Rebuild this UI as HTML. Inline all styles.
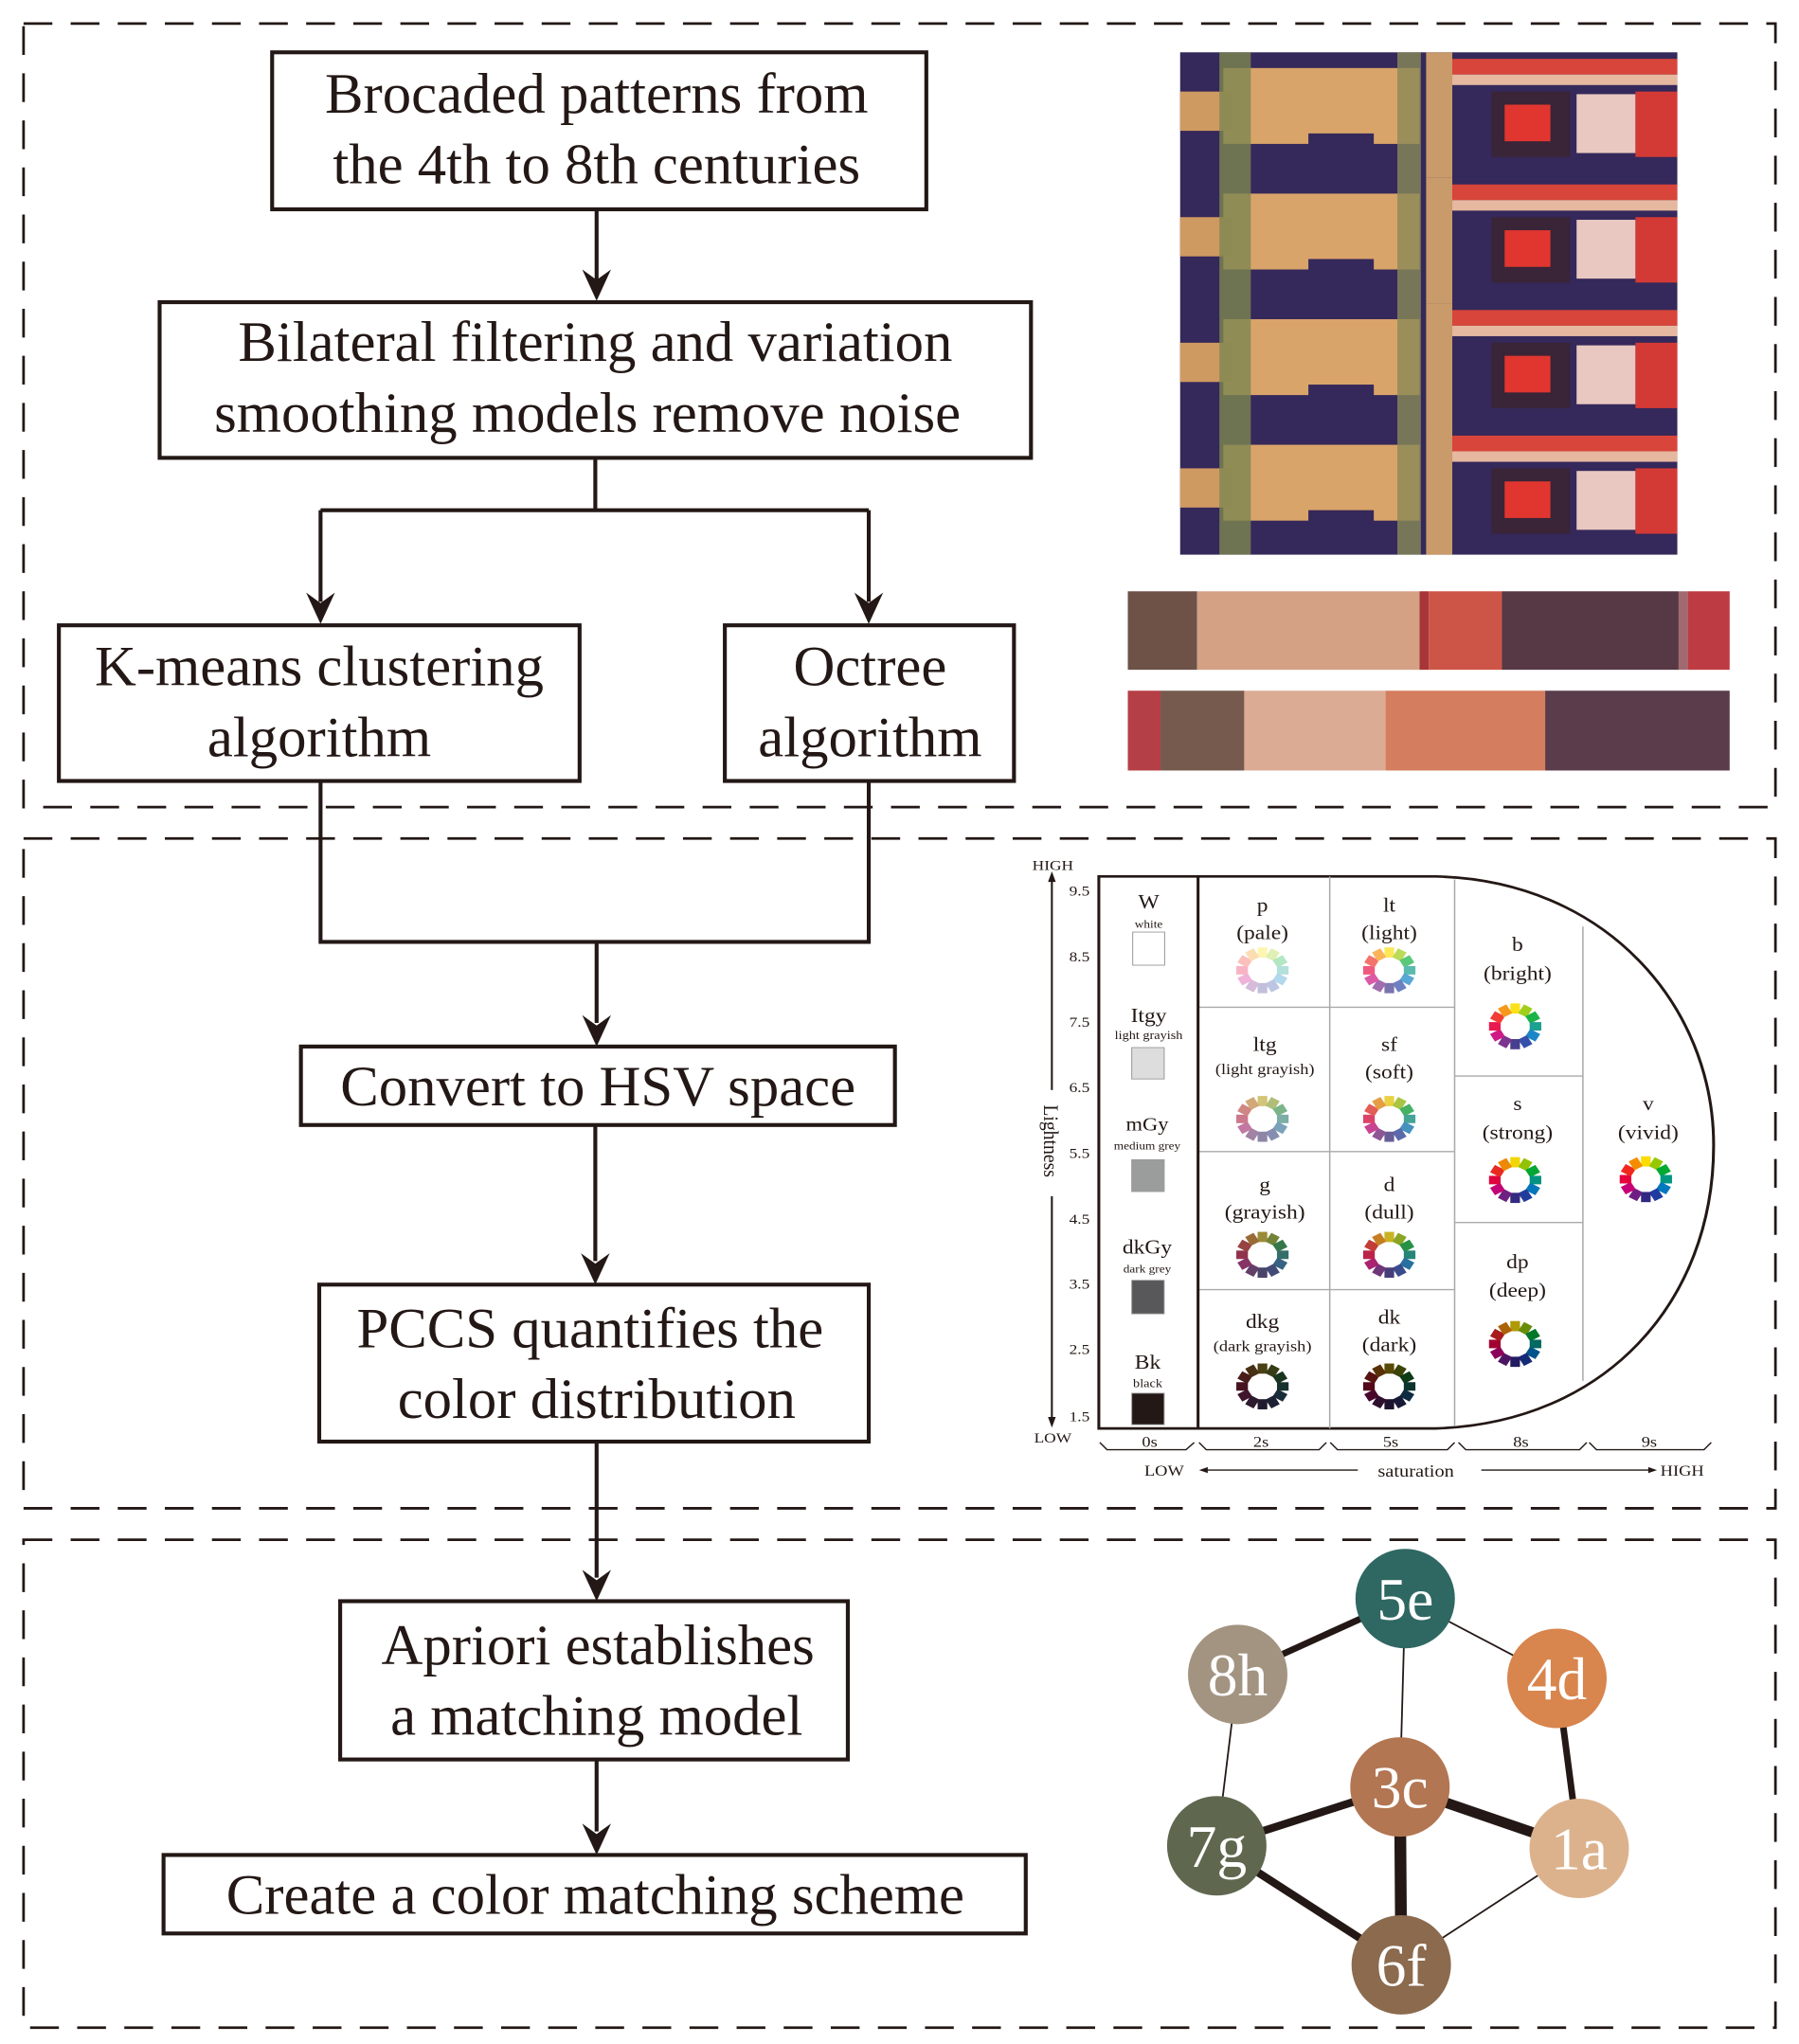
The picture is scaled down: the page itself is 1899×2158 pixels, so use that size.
<!DOCTYPE html>
<html><head><meta charset="utf-8"><style>
html,body{margin:0;padding:0;background:#fff}
svg{display:block}
text{font-family:"Liberation Serif",serif;fill:#231815}
</style></head><body>
<svg id="s" width="1899" height="2158" viewBox="0 0 1375 1562.5" preserveAspectRatio="none" xmlns="http://www.w3.org/2000/svg">
<g fill="none" stroke="#231815" stroke-width="2" stroke-dasharray="22 14">
<rect x="18" y="18" width="1339" height="599"/>
<rect x="18" y="641" width="1339" height="512"/>
<rect x="18" y="1177" width="1339" height="373"/>
</g>
<g fill="#fff" stroke="#231815" stroke-width="3">
<rect x="208" y="40" width="500" height="120"/>
<rect x="122" y="231" width="666" height="119"/>
<rect x="45" y="478" width="398" height="119"/>
<rect x="554" y="478" width="221" height="119"/>
<rect x="230" y="800" width="454" height="60"/>
<rect x="244" y="982" width="420" height="120"/>
<rect x="260" y="1224" width="388" height="121"/>
<rect x="125" y="1418" width="659" height="60"/>
</g>
<g fill="none" stroke="#231815" stroke-width="3">
<path d="M456,160 V214"/><path d="M455,350 V390 M245,390 H664 M245,390 V460 M664,390 V460"/>
<path d="M245,597 V720 H664 V597 M456,720 V782"/>
<path d="M455,860 V964"/><path d="M456,1102 V1206"/><path d="M456,1345 V1400"/>
</g>
<g fill="#231815" id="arrows"></g>
<g font-size="44" text-anchor="middle">
<text x="456" y="86">Brocaded patterns from</text><text x="456" y="140">the 4th to 8th centuries</text>
<text x="455" y="276">Bilateral filtering and variation</text><text x="449" y="330">smoothing models remove noise</text>
<text x="244" y="524">K-means clustering</text><text x="244" y="578">algorithm</text>
<text x="665" y="524">Octree</text><text x="665" y="578">algorithm</text>
<text x="457" y="845">Convert to HSV space</text>
<text x="451" y="1030">PCCS quantifies the</text><text x="456" y="1084">color distribution</text>
<text x="457" y="1272">Apriori establishes</text><text x="456" y="1326">a matching model</text>
<text x="455" y="1463">Create a color matching scheme</text>
</g>
<g id="tex"><rect x="902" y="40" width="380" height="384" fill="#35285a"/></g>
<rect x="862" y="452" width="53" height="60" fill="#6e5248"/><rect x="915" y="452" width="170" height="60" fill="#d4a184"/><rect x="1085" y="452" width="7" height="60" fill="#a83538"/><rect x="1092" y="452" width="56" height="60" fill="#cc5548"/><rect x="1148" y="452" width="135" height="60" fill="#573845"/><rect x="1283" y="452" width="7" height="60" fill="#a06a70"/><rect x="1290" y="452" width="32" height="60" fill="#bd3c44"/>
<rect x="862" y="528" width="25" height="61" fill="#b53f46"/><rect x="887" y="528" width="64" height="61" fill="#765a4e"/><rect x="951" y="528" width="108" height="61" fill="#dcab94"/><rect x="1059" y="528" width="122" height="61" fill="#d57d5f"/><rect x="1181" y="528" width="141" height="61" fill="#5a3c4a"/>
<g transform="translate(764,638.5) scale(0.370,0.3246)">
<path d="M205,97 H900 C1250,105 1475,400 1475,730 C1475,1100 1250,1385 900,1397 H205 Z" fill="#fff" stroke="#231815" stroke-width="6"/>
<g stroke="#aaa" stroke-width="3"><path d="M682,97 V1397 M940,104 V1392 M1205,215 V1285 M410,405 H940 M410,745 H940 M410,1070 H940 M940,567 H1205 M940,912 H1205"/></g>
<path d="M410,97 V1397" stroke="#231815" stroke-width="6"/>
<path d="M108,95 V1385" stroke="#231815" stroke-width="4"/>
<path d="M108,85 L100,110 L116,110 Z M108,1395 L100,1370 L116,1370 Z" fill="#231815"/>
<rect x="80" y="600" width="56" height="250" fill="#fff"/>
<text x="110" y="82" font-size="34" text-anchor="middle">HIGH</text><text x="110" y="1430" font-size="34" text-anchor="middle">LOW</text>
<text transform="translate(92,720) rotate(90)" font-size="44" text-anchor="middle">Lightness</text>
<g font-size="34" text-anchor="middle"><text x="165" y="142">9.5</text><text x="165" y="297">8.5</text><text x="165" y="451">7.5</text><text x="165" y="605">6.5</text><text x="165" y="760">5.5</text><text x="165" y="915">4.5</text><text x="165" y="1068">3.5</text><text x="165" y="1222">2.5</text><text x="165" y="1380">1.5</text></g>
<g stroke="#999" stroke-width="2"><rect x="275" y="228" width="66" height="78" fill="#fff"/><rect x="273" y="500" width="67" height="74" fill="#dddddd"/><rect x="273" y="764" width="67" height="75" fill="#9b9c9c"/><rect x="273" y="1048" width="67" height="79" fill="#58585a"/><rect x="273" y="1314" width="67" height="74" fill="#231815"/></g>
<g text-anchor="middle"><text x="308" y="172" font-size="46">W</text><text x="308" y="218" font-size="26">white</text>
<text x="308" y="440" font-size="46">Itgy</text><text x="308" y="480" font-size="28">light grayish</text>
<text x="305" y="695" font-size="44">mGy</text><text x="305" y="740" font-size="26">medium grey</text>
<text x="305" y="985" font-size="46">dkGy</text><text x="305" y="1030" font-size="26">dark grey</text>
<text x="306" y="1256" font-size="46">Bk</text><text x="306" y="1300" font-size="28">black</text></g>
<g text-anchor="middle" font-size="46">
<text x="543" y="180">p</text><text x="543" y="245">(pale)</text>
<text x="805" y="180">lt</text><text x="805" y="245">(light)</text>
<text x="548" y="508">ltg</text><text x="548" y="563" font-size="36">(light grayish)</text>
<text x="805" y="508">sf</text><text x="805" y="573">(soft)</text>
<text x="548" y="838">g</text><text x="548" y="903">(grayish)</text>
<text x="805" y="838">d</text><text x="805" y="903">(dull)</text>
<text x="543" y="1160">dkg</text><text x="543" y="1215" font-size="36">(dark grayish)</text>
<text x="805" y="1150">dk</text><text x="805" y="1215">(dark)</text>
<text x="1070" y="272">b</text><text x="1070" y="340">(bright)</text>
<text x="1070" y="647">s</text><text x="1070" y="715">(strong)</text>
<text x="1070" y="1020">dp</text><text x="1070" y="1087">(deep)</text>
<text x="1340" y="647">v</text><text x="1340" y="715">(vivid)</text>
</g>
<g fill="none" stroke="#231815" stroke-width="3"><path d="M207,1430 L222,1447 H385 L402,1430 M412,1430 L427,1447 H660 L675,1430 M683,1430 L698,1447 H925 L940,1430 M948,1430 L963,1447 H1198 L1213,1430 M1218,1430 L1233,1447 H1455 L1470,1430"/>
<path d="M420,1495 H740 M995,1495 H1350"/></g>
<path d="M412,1495 L430,1488 L430,1502 Z M1358,1495 L1340,1488 L1340,1502 Z" fill="#231815"/>
<g text-anchor="middle" font-size="36"><text x="310" y="1440">0s</text><text x="540" y="1440">2s</text><text x="808" y="1440">5s</text><text x="1077" y="1440">8s</text><text x="1342" y="1440">9s</text>
<text x="340" y="1508">LOW</text><text x="860" y="1510" font-size="40">saturation</text><text x="1410" y="1508">HIGH</text></g>
<g id="wheels"></g>
</g>
<g stroke="#231815" stroke-linecap="round">
<line x1="1074" y1="1222" x2="946" y2="1280" stroke-width="5"/>
<line x1="1074" y1="1222" x2="1190" y2="1283" stroke-width="1.3"/>
<line x1="1074" y1="1222" x2="1070" y2="1366" stroke-width="1.3"/>
<line x1="946" y1="1280" x2="930" y2="1411" stroke-width="1.3"/>
<line x1="1190" y1="1283" x2="1207" y2="1413" stroke-width="5"/>
<line x1="1070" y1="1366" x2="930" y2="1411" stroke-width="6"/>
<line x1="1070" y1="1366" x2="1207" y2="1413" stroke-width="8"/>
<line x1="1070" y1="1366" x2="1071" y2="1502" stroke-width="9"/>
<line x1="930" y1="1411" x2="1071" y2="1502" stroke-width="6"/>
<line x1="1071" y1="1502" x2="1207" y2="1413" stroke-width="1.3"/>
</g>
<g><circle cx="1074" cy="1222" r="38" fill="#2f6862"/><circle cx="946" cy="1280" r="38" fill="#a39481"/><circle cx="1190" cy="1283" r="38" fill="#d8854e"/><circle cx="1070" cy="1366" r="38" fill="#b27653"/><circle cx="930" cy="1411" r="38" fill="#5f684f"/><circle cx="1207" cy="1413" r="38" fill="#dcb28d"/><circle cx="1071" cy="1502" r="38" fill="#8b6a4e"/></g>
<g font-size="46" text-anchor="middle"><text x="1074" y="1238" style="fill:#fff">5e</text><text x="946" y="1296" style="fill:#fff">8h</text><text x="1190" y="1299" style="fill:#fff">4d</text><text x="1070" y="1382" style="fill:#fff">3c</text><text x="930" y="1427" style="fill:#fff">7g</text><text x="1207" y="1429" style="fill:#fff">1a</text><text x="1071" y="1518" style="fill:#fff">6f</text></g>
</svg>
<script>
var NS="http://www.w3.org/2000/svg";
function el(p,t,a){var e=document.createElementNS(NS,t);for(var k in a)e.setAttribute(k,a[k]);p.appendChild(e);return e;}
var A=document.getElementById("arrows");
[[456,230],[245,477],[664,477],[456,800],[455,982],[456,1224],[456,1418]].forEach(function(p){
el(A,"path",{d:"M"+p[0]+","+p[1]+" L"+(p[0]-11)+","+(p[1]-24)+" L"+p[0]+","+(p[1]-16)+" L"+(p[0]+11)+","+(p[1]-24)+" Z"});});
var hues=[[250,220,0],[150,200,0],[0,170,50],[0,150,130],[0,120,190],[30,60,160],[50,40,130],[110,30,130],[200,0,120],[230,0,60],[240,40,30],[245,140,0]];
function mix(c,t,a){return "rgb("+c.map(function(v,i){return Math.round(v*(1-a)+t[i]*a)}).join(",")+")";}
var tones={p:[[255,255,255],.7],lt:[[255,255,255],.35],ltg:[[190,185,185],.65],sf:[[200,190,190],.35],g:[[90,85,90],.6],d:[[110,100,100],.35],dkg:[[30,25,25],.8],dk:[[20,10,10],.7],b:[[255,255,255],.1],s:[[80,80,80],.05],dp:[[0,0,20],.3],v:[[0,0,0],0]};
var W=document.getElementById("wheels");
[["p",543,318],["lt",805,318],["ltg",543,668],["sf",805,668],["g",543,988],["d",805,988],["dkg",543,1298],["dk",805,1298],["b",1065,450],["s",1065,812],["dp",1065,1198],["v",1335,810]].forEach(function(w){
var t=tones[w[0]];for(var i=0;i<12;i++){el(W,"rect",{x:w[1]-10,y:w[2]-54,width:20,height:24,fill:mix(hues[i],t[0],t[1]),transform:"rotate("+(i*30)+" "+w[1]+" "+w[2]+")"});}});
var T=document.getElementById("tex");
for(var r=0;r<4;r++){var y=40+r*96;
el(T,"rect",{x:935,y:y+12,width:150,height:58,fill:"#d9a46a"});
el(T,"rect",{x:902,y:y+30,width:40,height:30,fill:"#cf9a62"});
el(T,"rect",{x:1000,y:y+62,width:50,height:16,fill:"#35285a"});
el(T,"rect",{x:1090,y:y,width:20,height:96,fill:"#c99a6a"});
el(T,"rect",{x:1110,y:y+5,width:172,height:12,fill:"#d8453a"});
el(T,"rect",{x:1110,y:y+17,width:172,height:8,fill:"#e6b8a0"});
el(T,"rect",{x:1140,y:y+30,width:60,height:50,fill:"#3a2438"});
el(T,"rect",{x:1150,y:y+40,width:35,height:28,fill:"#e0362f"});
el(T,"rect",{x:1205,y:y+32,width:45,height:45,fill:"#e8c8c0"});
el(T,"rect",{x:1250,y:y+30,width:32,height:50,fill:"#d43a35"});
}
el(T,"rect",{x:932,y:40,width:24,height:384,fill:"#7d8650",opacity:.8});
el(T,"rect",{x:1068,y:40,width:18,height:384,fill:"#8a8a58",opacity:.8});
</script>
</body></html>
